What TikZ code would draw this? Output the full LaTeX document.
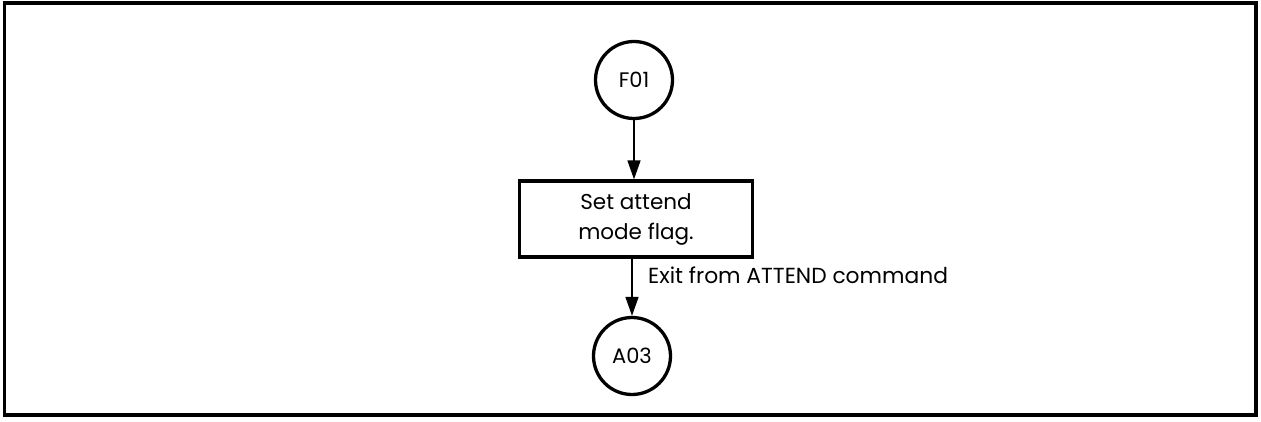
\documentclass[tikz,border=0pt]{standalone}
\usepackage{fontspec}
\setmainfont{Poppins}
\usetikzlibrary{arrows.meta}
\begin{document}
\begin{tikzpicture}[x=1pt,y=-1pt,
  conn/.style={circle,draw,line width=3.3pt,minimum size=77pt,inner sep=0pt,font=\fontsize{21}{24}\selectfont},
  proc/.style={rectangle,draw,line width=3.3pt,minimum width=233pt,minimum height=76pt,inner sep=0pt,align=center,font=\fontsize{21.5}{30}\selectfont},
  flow/.style={line width=1.5pt,-{Triangle[length=19pt,width=13pt]}},
  lbl/.style={font=\fontsize{21.8}{24}\selectfont,anchor=base west,inner sep=0pt}]
\useasboundingbox (0,0) rectangle (1261,422);
\draw[line width=3.5pt] (4.5,3) rectangle (1256,415);
\node[conn] (f01) at (634,80) {F01};
\node[proc] (box) at (636,219) {Set attend\\mode flag.};
\node[conn] (a03) at (632,356) {A03};
\draw[flow] (f01.south) -- (f01.south |- box.north);
\draw[flow] (box.south -| a03.north) -- (a03.north);
\node[lbl] (exit) at (648,283) {Exit from ATTEND command};
\end{tikzpicture}
\end{document}
